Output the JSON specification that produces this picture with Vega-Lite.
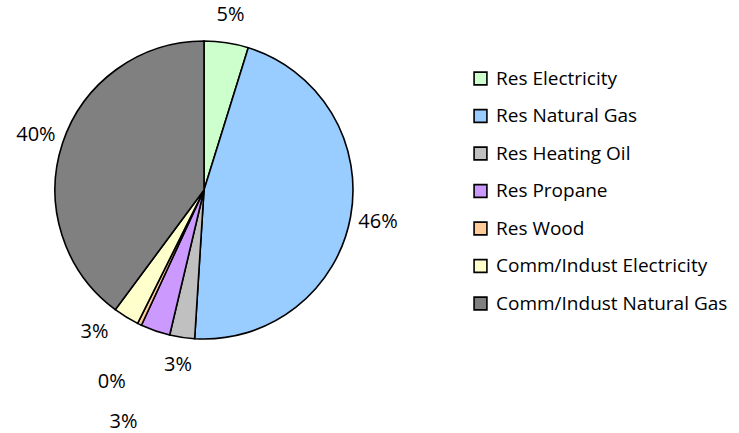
{
  "$schema": "https://vega.github.io/schema/vega-lite/v6.json",
  "width": 408,
  "height": 380,
  "autosize": "none",
  "padding": {"left": 0, "top": 0, "right": 331, "bottom": 53},
  "background": "white",
  "data": {
    "values": [
      {"idx": 1, "category": "Res Electricity", "share": 0.048},
      {"idx": 2, "category": "Res Natural Gas", "share": 0.462},
      {"idx": 3, "category": "Res Heating Oil", "share": 0.027},
      {"idx": 4, "category": "Res Propane", "share": 0.032},
      {"idx": 5, "category": "Res Wood", "share": 0.0045},
      {"idx": 6, "category": "Comm/Indust Electricity", "share": 0.028},
      {"idx": 7, "category": "Comm/Indust Natural Gas", "share": 0.3985}
    ]
  },
  "encoding": {
    "theta": {"field": "share", "type": "quantitative", "stack": true},
    "order": {"field": "idx", "type": "quantitative"}
  },
  "layer": [
    {
      "mark": {"type": "arc", "outerRadius": 149, "stroke": "black", "strokeWidth": 1.6},
      "encoding": {
        "color": {
          "field": "category",
          "type": "nominal",
          "sort": null,
          "scale": {
            "domain": ["Res Electricity", "Res Natural Gas", "Res Heating Oil", "Res Propane", "Res Wood", "Comm/Indust Electricity", "Comm/Indust Natural Gas"],
            "range": ["#CCFFCC", "#99CCFF", "#C0C0C0", "#CC99FF", "#FFCC99", "#FFFFCC", "#808080"]
          },
          "legend": {
            "title": null,
            "orient": "none",
            "legendX": 471,
            "legendY": 69,
            "padding": 0,
            "symbolType": "square",
            "symbolSize": 165,
            "symbolStrokeColor": "black",
            "symbolStrokeWidth": 1.6,
            "symbolOpacity": 1,
            "labelFont": "Open Sans",
            "labelFontSize": 19,
            "labelColor": "black",
            "labelOffset": 6,
            "rowPadding": 16.5,
            "labelLimit": 300
          }
        }
      }
    },
    {
      "mark": {"type": "text", "radius": 177, "font": "Open Sans", "fontSize": 20, "color": "black"},
      "encoding": {
        "text": {"field": "share", "type": "quantitative", "format": ".0%"},
        "opacity": {"condition": {"test": "datum.idx <= 3 || datum.idx == 7", "value": 1}, "value": 0}
      }
    },
    {
      "mark": {"type": "text", "radius": 246, "font": "Open Sans", "fontSize": 20, "color": "black"},
      "encoding": {
        "text": {"field": "share", "type": "quantitative", "format": ".0%"},
        "opacity": {"condition": {"test": "datum.idx == 4", "value": 1}, "value": 0}
      }
    },
    {
      "mark": {"type": "text", "radius": 213, "font": "Open Sans", "fontSize": 20, "color": "black"},
      "encoding": {
        "text": {"field": "share", "type": "quantitative", "format": ".0%"},
        "opacity": {"condition": {"test": "datum.idx == 5", "value": 1}, "value": 0}
      }
    },
    {
      "mark": {"type": "text", "radius": 179, "dx": -16, "dy": -11, "font": "Open Sans", "fontSize": 20, "color": "black"},
      "encoding": {
        "text": {"field": "share", "type": "quantitative", "format": ".0%"},
        "opacity": {"condition": {"test": "datum.idx == 6", "value": 1}, "value": 0}
      }
    }
  ],
  "config": {"view": {"stroke": null}}
}
